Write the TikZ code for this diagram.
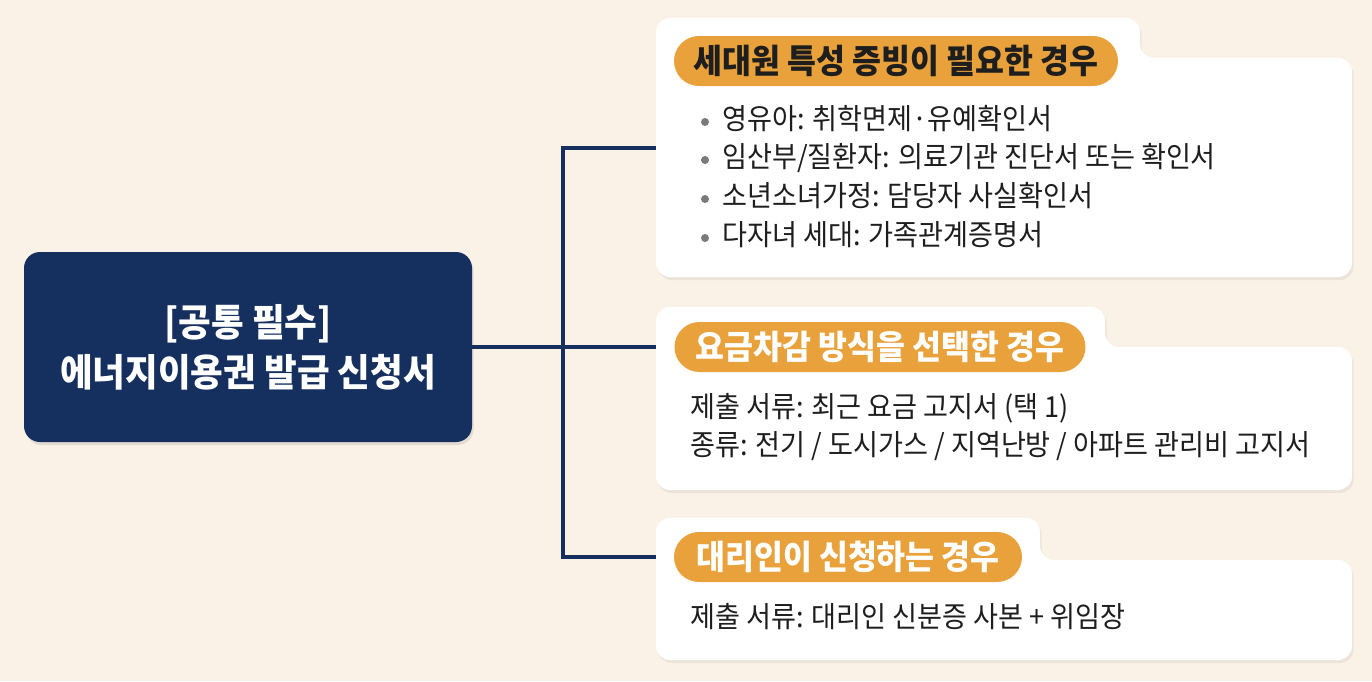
\documentclass[tikz,border=0pt]{standalone}
\usepackage{fontspec}
\setmainfont{Noto Sans CJK KR}[FakeStretch=0.935]
\usetikzlibrary{shadows}
\definecolor{bg}{HTML}{FBF2E7}
\definecolor{navy}{HTML}{15305F}
\definecolor{amber}{HTML}{E9A23B}
\definecolor{ink}{HTML}{1E1E1E}
\definecolor{dotgray}{HTML}{7A7A7A}
\begin{document}
\begin{tikzpicture}[x=0.5pt,y=-0.5pt,
  card/.style={fill=white,rounded corners=7pt,drop shadow={shadow xshift=0.8pt,shadow yshift=-1.5pt,opacity=0.12}},
  conn/.style={draw=navy,line width=2pt},
  mainbox/.style={fill=navy,rounded corners=8pt,minimum width=224pt,minimum height=95pt,text=white,align=center,font=\bfseries\fontsize{19}{25}\selectfont,drop shadow={shadow xshift=0.8pt,shadow yshift=-1.5pt,opacity=0.2}},
  pill/.style={fill=amber,rounded corners=12.5pt,minimum height=25pt,inner sep=0pt,font=\bfseries\fontsize{16.8}{18}\selectfont},
  txt/.style={anchor=west,text=ink,font=\fontsize{14.5}{17}\selectfont,inner sep=0pt,text height=11pt,text depth=3pt},
  bul/.style={circle,fill=dotgray,minimum size=4pt,inner sep=0pt}]
\useasboundingbox[fill=bg] (0,0) rectangle (1372,681);
% anchor coordinates
\coordinate (c1w) at (656,148);
\coordinate (c2w) at (656,347);
\coordinate (c3w) at (656,557);
\coordinate (j) at (563,347);
% main node
\node[mainbox] (main) at (248,347) {[공통 필수]\\에너지이용권 발급 신청서};
% connectors
\draw[conn] (main.east) -- (c2w);
\draw[conn] (c1w) -- (c1w -| j) -- (c3w -| j) -- (c3w);
% cards
\fill[card] (656,277) -- (656,18) -- (1140,18) -- (1140,58) -- (1352,58) -- (1352,277) -- cycle;
\fill[card] (656,490) -- (656,307) -- (1105,307) -- (1105,347) -- (1352,347) -- (1352,490) -- cycle;
\fill[card] (656,660) -- (656,518) -- (1040,518) -- (1040,560) -- (1352,560) -- (1352,660) -- cycle;
% pills
\node[pill,minimum width=222pt,text=ink] (p1) at (896,61) {세대원 특성 증빙이 필요한 경우};
\node[pill,minimum width=205.5pt,text=white] (p2) at (880,347) {요금차감 방식을 선택한 경우};
\node[pill,minimum width=174pt,text=white] (p3) at (848,557) {대리인이 신청하는 경우};
% card 1 bullets
\node[bul] (d1) at (705,122) {};
\node[bul] (d2) at (705,160) {};
\node[bul] (d3) at (705,199) {};
\node[bul] (d4) at (705,238) {};
\node[txt] (t1) at (722,121) {영유아: 취학면제·유예확인서};
\node[txt] (t2) at (722,159) {임산부/질환자: 의료기관 진단서 또는 확인서};
\node[txt] (t3) at (722,198) {소년소녀가정: 담당자 사실확인서};
\node[txt] (t4) at (722,237) {다자녀 세대: 가족관계증명서};
% card 2
\node[txt] (t5) at (690,409) {제출 서류: 최근 요금 고지서 (택 1)};
\node[txt] (t6) at (690,447) {종류: 전기 / 도시가스 / 지역난방 / 아파트 관리비 고지서};
% card 3
\node[txt] (t7) at (690,619) {제출 서류: 대리인 신분증 사본 + 위임장};
\end{tikzpicture}
\end{document}
